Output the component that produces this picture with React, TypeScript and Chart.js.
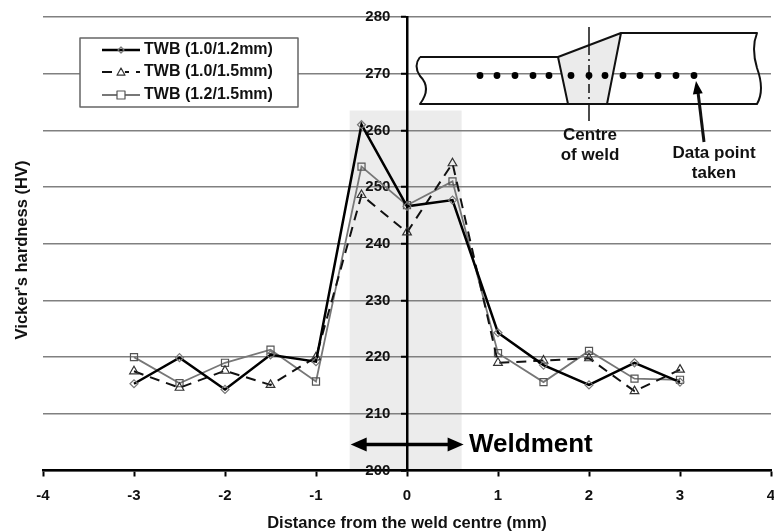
import React, { useEffect, useRef } from "react";
import { Chart, registerables } from "chart.js";

Chart.register(...registerables);

const distances = [-3, -2.5, -2, -1.5, -1, -0.5, 0, 0.5, 1, 1.5, 2, 2.5, 3];
const twb10_12 = [215.3, 219.9, 214.3, 220.4, 219.2, 261, 246.6, 247.7, 224.3, 218.6, 215.1, 219, 215.6];
const twb10_15 = [217.5, 214.6, 217.6, 215.1, 220, 248.6, 242, 254.2, 219, 219.4, 219.8, 214, 217.8];
const twb12_15 = [220, 215.4, 219, 221.3, 215.7, 253.6, 246.8, 251, 220.7, 215.6, 221.1, 216.2, 216];
const seriesNames = ["TWB (1.0/1.2mm)", "TWB (1.0/1.5mm)", "TWB (1.2/1.5mm)"];
const weldBand = { xMin: -0.63, xMax: 0.6, yMax: 263.5 };
const xTitle = "Distance from the weld centre (mm)";
const yTitle = "Vicker's hardness (HV)";
const FONT = '"Liberation Sans", Arial, sans-serif';

const inkDot = [480, 497, 515, 533, 549, 571, 589, 605, 623, 640, 658, 676, 694];

function arrowHead(ctx: CanvasRenderingContext2D, x: number, y: number, dx: number, dy: number, len: number, half: number) {
  const n = Math.hypot(dx, dy);
  const ux = dx / n, uy = dy / n;
  ctx.beginPath();
  ctx.moveTo(x, y);
  ctx.lineTo(x - ux * len - uy * half, y - uy * len + ux * half);
  ctx.lineTo(x - ux * len + uy * half, y - uy * len - ux * half);
  ctx.closePath();
  ctx.fill();
}

function marker(ctx: CanvasRenderingContext2D, style: string, x: number, y: number, r: number) {
  ctx.beginPath();
  if (style === "rectRot") {
    ctx.moveTo(x, y - r); ctx.lineTo(x + r, y); ctx.lineTo(x, y + r); ctx.lineTo(x - r, y); ctx.closePath();
  } else if (style === "triangle") {
    ctx.moveTo(x, y - r); ctx.lineTo(x + r, y + r * 0.8); ctx.lineTo(x - r, y + r * 0.8); ctx.closePath();
  } else {
    ctx.rect(x - r, y - r, 2 * r, 2 * r);
  }
  ctx.stroke();
}

const bandPlugin = {
  id: "band",
  beforeDraw(chart: any) {
    const { ctx, scales } = chart;
    const l = scales.x.getPixelForValue(weldBand.xMin);
    const r = scales.x.getPixelForValue(weldBand.xMax);
    const t = scales.y.getPixelForValue(weldBand.yMax);
    const b = scales.y.getPixelForValue(200);
    ctx.save();
    ctx.fillStyle = "#ffffff";
    ctx.fillRect(0, 0, chart.width, chart.height);
    ctx.fillStyle = "#ececec";
    ctx.fillRect(l, t, r - l, b - t);
    ctx.restore();
  },
};

const overlayPlugin = {
  id: "overlay",
  afterDraw(chart: any) {
    const { ctx, scales } = chart;
    ctx.save();

    // y axis title
    ctx.save();
    ctx.translate(22, 250);
    ctx.rotate(-Math.PI / 2);
    ctx.fillStyle = "#111";
    ctx.font = `bold 16.5px ${FONT}`;
    ctx.textAlign = "center";
    ctx.textBaseline = "middle";
    ctx.fillText(yTitle, 0, 0);
    ctx.restore();

    // weldment arrow
    const ay = scales.y.getPixelForValue(204.6);
    const al = scales.x.getPixelForValue(weldBand.xMin) + 1;
    const ar = scales.x.getPixelForValue(weldBand.xMax) + 2;
    ctx.strokeStyle = "#000";
    ctx.fillStyle = "#000";
    ctx.lineWidth = 3.5;
    ctx.beginPath();
    ctx.moveTo(al + 8, ay);
    ctx.lineTo(ar - 8, ay);
    ctx.stroke();
    arrowHead(ctx, al, ay, -1, 0, 16, 7);
    arrowHead(ctx, ar, ay, 1, 0, 16, 7);
    ctx.font = `bold 26px ${FONT}`;
    ctx.textAlign = "left";
    ctx.textBaseline = "middle";
    ctx.fillText("Weldment", 469, ay);

    // inset diagram
    ctx.fillStyle = "#ebebeb";
    ctx.beginPath();
    ctx.moveTo(558, 57); ctx.lineTo(621, 33); ctx.lineTo(607, 104); ctx.lineTo(568, 104); ctx.closePath();
    ctx.fill();
    ctx.strokeStyle = "#111";
    ctx.lineWidth = 2;
    ctx.lineJoin = "round";
    ctx.beginPath();
    ctx.moveTo(420, 57); ctx.lineTo(558, 57); ctx.lineTo(621, 33); ctx.lineTo(757, 33);
    ctx.quadraticCurveTo(751, 48, 757, 68);
    ctx.quadraticCurveTo(765, 90, 757, 104);
    ctx.lineTo(420, 104);
    ctx.quadraticCurveTo(432, 88, 420, 76);
    ctx.quadraticCurveTo(413, 66, 420, 57);
    ctx.moveTo(558, 57); ctx.lineTo(568, 104);
    ctx.moveTo(621, 33); ctx.lineTo(607, 104);
    ctx.stroke();
    ctx.lineWidth = 1.5;
    ctx.beginPath();
    ctx.moveTo(589, 27); ctx.lineTo(589, 46);
    ctx.moveTo(589, 104); ctx.lineTo(589, 121);
    ctx.stroke();
    ctx.setLineDash([9, 4, 2, 4]);
    ctx.beginPath();
    ctx.moveTo(589, 46); ctx.lineTo(589, 104);
    ctx.stroke();
    ctx.setLineDash([]);
    ctx.fillStyle = "#000";
    inkDot.forEach((x) => {
      ctx.beginPath();
      ctx.arc(x, 75.5, 3.4, 0, Math.PI * 2);
      ctx.fill();
    });
    ctx.lineWidth = 3;
    ctx.beginPath();
    ctx.moveTo(704, 142); ctx.lineTo(698, 92);
    ctx.stroke();
    arrowHead(ctx, 696, 81, -1, -7, 13, 5);
    ctx.fillStyle = "#111";
    ctx.font = `bold 17px ${FONT}`;
    ctx.textAlign = "center";
    ctx.fillText("Centre", 590, 135);
    ctx.fillText("of weld", 590, 155);
    ctx.fillText("Data point", 714, 153);
    ctx.fillText("taken", 714, 173);

    // legend
    ctx.fillStyle = "#fff";
    ctx.fillRect(80, 38, 218, 69);
    ctx.strokeStyle = "#666";
    ctx.lineWidth = 1.5;
    ctx.strokeRect(80, 38, 218, 69);
    const rows = [50, 72, 95];
    chart.data.datasets.forEach((ds: any, i: number) => {
      const y = rows[i];
      ctx.strokeStyle = ds.borderColor;
      ctx.lineWidth = ds.borderWidth;
      ctx.setLineDash(ds.borderDash || []);
      ctx.beginPath();
      ctx.moveTo(102, y); ctx.lineTo(140, y);
      ctx.stroke();
      ctx.setLineDash([]);
      ctx.fillStyle = "#fff";
      ctx.strokeStyle = ds.pointBorderColor;
      ctx.lineWidth = 1.2;
      if (i > 0) {
        ctx.beginPath();
        ctx.arc(121, y, 4, 0, Math.PI * 2);
        ctx.fill();
      }
      marker(ctx, ds.pointStyle, 121, y, i === 0 ? 3 : 4);
      ctx.fillStyle = "#111";
      ctx.font = `bold 16px ${FONT}`;
      ctx.textAlign = "left";
      ctx.textBaseline = "middle";
      ctx.fillText(ds.label, 144, y);
    });
    ctx.restore();
  },
};

const toPoints = (ys: number[]) => distances.map((x, i) => ({ x, y: ys[i] }));

export default function App() {
  const ref = useRef<HTMLCanvasElement>(null);
  useEffect(() => {
    const chart = new Chart(ref.current as HTMLCanvasElement, {
      type: "line",
      data: {
        datasets: [
          {
            label: seriesNames[0],
            data: toPoints(twb10_12),
            borderColor: "#000000",
            borderWidth: 2.5,
            pointStyle: "rectRot",
            pointRadius: 4,
            pointBorderColor: "#777777",
            pointBackgroundColor: "rgba(255,255,255,0)",
            pointBorderWidth: 1.2,
            tension: 0,
          },
          {
            label: seriesNames[1],
            data: toPoints(twb10_15),
            borderColor: "#111111",
            borderWidth: 2,
            borderDash: [10, 7],
            pointStyle: "triangle",
            pointRadius: 5,
            pointBorderColor: "#333333",
            pointBackgroundColor: "rgba(255,255,255,0)",
            pointBorderWidth: 1.2,
            tension: 0,
          },
          {
            label: seriesNames[2],
            data: toPoints(twb12_15),
            borderColor: "#777777",
            borderWidth: 1.8,
            pointStyle: "rect",
            pointRadius: 5,
            pointBorderColor: "#555555",
            pointBackgroundColor: "rgba(255,255,255,0)",
            pointBorderWidth: 1.2,
            tension: 0,
          },
        ],
      } as any,
      options: {
        animation: false,
        responsive: false,
        layout: { padding: { left: 43, right: 19, top: 17, bottom: 1 } },
        plugins: { legend: { display: false }, tooltip: { enabled: false }, title: { display: false } },
        scales: {
          x: {
            type: "linear",
            min: -4,
            max: 4,
            position: "bottom",
            ticks: { stepSize: 1, color: "#111", font: { family: FONT, weight: "bold", size: 15 }, padding: 10, maxRotation: 0 },
            grid: { drawOnChartArea: false, drawTicks: true, tickLength: 6, tickColor: "#000", tickWidth: 2 },
            border: { color: "#000", width: 2.5 },
            title: { display: true, text: xTitle, color: "#111", font: { family: FONT, weight: "bold", size: 16.5, lineHeight: 1 }, padding: { top: 1, bottom: 0 } },
          },
          y: {
            type: "linear",
            min: 200,
            max: 280,
            position: { x: 0 },
            ticks: { stepSize: 10, color: "#111", font: { family: FONT, weight: "bold", size: 15 }, callback: (v: number) => `${v}\u00a0\u00a0\u00a0\u00a0` },
            grid: { color: "#808080", lineWidth: 1.5, drawTicks: true, tickLength: 5, tickColor: "#000", tickWidth: 2 },
            border: { color: "#000", width: 2.5 },
          },
        },
      } as any,
      plugins: [bandPlugin, overlayPlugin],
    });
    return () => chart.destroy();
  }, []);
  return (
    <div style={{ position: "fixed", left: 0, top: 0, width: 774, height: 531, overflow: "hidden", background: "#fff" }}>
      <canvas ref={ref} width={790} height={533} style={{ display: "block", width: 790, height: 533, filter: "blur(0.4px)" }} />
    </div>
  );
}
